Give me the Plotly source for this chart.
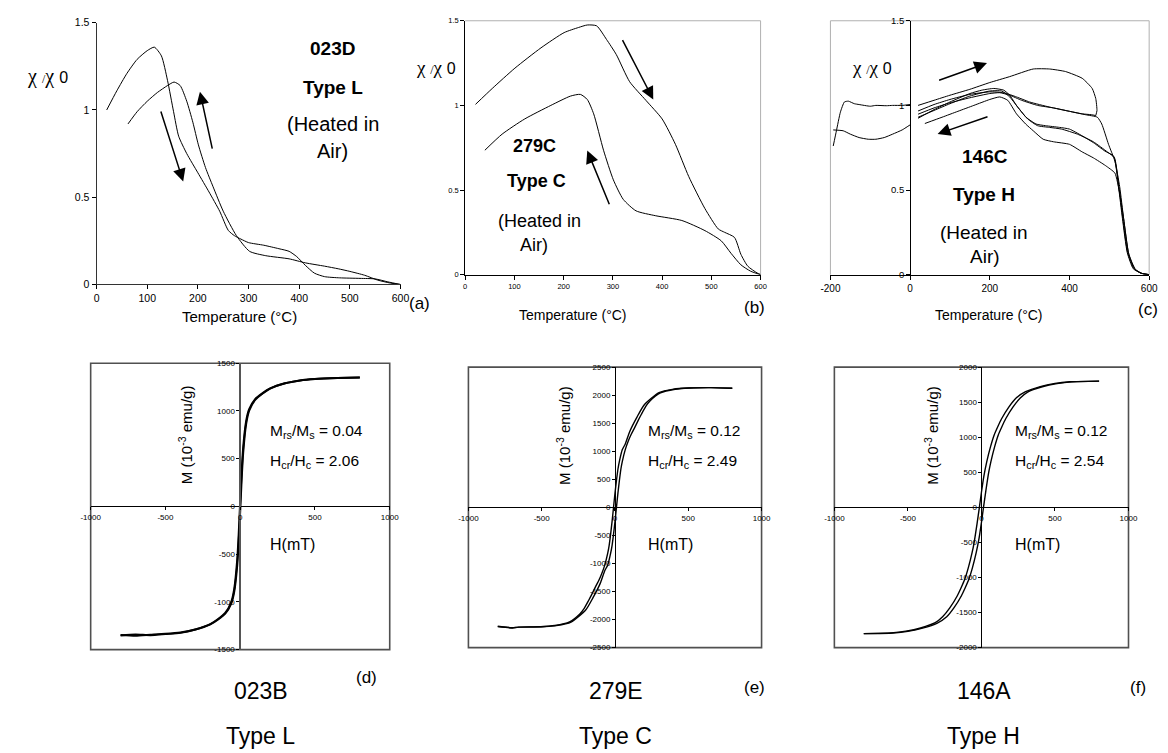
import plotly.graph_objects as go

W, H = 1168, 753

# ---------------- (a) 023D, Type L : susceptibility vs temperature ----------------
a_heat_T = [20, 40, 60, 80, 100, 114, 128, 140, 152, 162, 178, 200, 222, 243, 260, 272, 285, 300,
            330, 360, 380, 395, 412, 430, 450, 480, 520, 550, 575, 600]
a_heat_v = [1.00, 1.11, 1.21, 1.29, 1.34, 1.36, 1.31, 1.17, 0.99, 0.85, 0.75, 0.64, 0.53, 0.42, 0.31,
            0.28, 0.26, 0.24, 0.225, 0.205, 0.19, 0.16, 0.11, 0.065, 0.045, 0.038, 0.035, 0.032, 0.015, 0.0]
a_cool_T = [62, 80, 100, 120, 140, 153, 165, 178, 190, 201, 215, 230, 250, 276, 302, 334, 380, 412,
            450, 477, 500, 529, 555, 580, 600]
a_cool_v = [0.92, 0.99, 1.05, 1.10, 1.14, 1.16, 1.14, 1.05, 0.93, 0.80, 0.67, 0.56, 0.42, 0.28, 0.19,
            0.165, 0.147, 0.124, 0.105, 0.09, 0.075, 0.053, 0.025, 0.008, 0.0]

# ---------------- (b) 279C, Type C ----------------
b_heat_T = [21, 55, 101, 154, 201, 230, 248, 267, 287, 307, 334, 367, 400, 427, 454, 487, 514, 527,
            547, 560, 574, 593, 600]
b_heat_v = [1.006, 1.10, 1.22, 1.34, 1.43, 1.46, 1.475, 1.47, 1.39, 1.30, 1.14, 1.03, 0.92, 0.77,
            0.58, 0.39, 0.27, 0.25, 0.22, 0.12, 0.05, 0.01, 0.0]
b_cool_T = [40, 75, 121, 174, 214, 234, 248, 261, 281, 301, 321, 347, 387, 440, 487, 520, 540, 560,
            580, 600]
b_cool_v = [0.735, 0.83, 0.92, 1.00, 1.055, 1.065, 1.035, 0.95, 0.735, 0.56, 0.445, 0.377, 0.348,
            0.32, 0.26, 0.20, 0.126, 0.058, 0.02, 0.0]

# ---------------- (c) 146C, Type H ----------------
c_low1_T = [-193, -185, -175, -165, -155, -140, -128, -100, -86, -60, -44, -20, 0]
c_low1_v = [0.76, 0.85, 0.96, 1.02, 1.025, 1.01, 1.005, 0.995, 1.0, 0.998, 1.0, 1.0, 1.005]
c_low2_T = [-193, -168, -150, -128, -105, -86, -65, -44, -20, 0]
c_low2_v = [0.855, 0.85, 0.83, 0.81, 0.80, 0.80, 0.81, 0.83, 0.855, 0.885]
c_heat1_T = [20, 60, 100, 150, 200, 250, 309, 350, 390, 432, 457, 466, 469, 466]
c_heat1_v = [1.0, 1.03, 1.06, 1.095, 1.135, 1.17, 1.215, 1.215, 1.20, 1.16, 1.10, 1.04, 0.97, 0.94]
c_cool1_T = [466, 455, 432, 400, 350, 300, 267, 235, 200, 150, 100, 60, 20]
c_cool1_v = [0.94, 0.945, 0.95, 0.965, 0.99, 1.02, 1.05, 1.075, 1.08, 1.065, 1.035, 1.005, 0.967]
c_heat2_T = [20, 60, 100, 150, 200, 225, 250, 280, 320, 360, 400, 440, 470, 481, 498, 514, 526, 536,
             548, 563, 580, 600]
c_heat2_v = [0.948, 0.985, 1.015, 1.045, 1.07, 1.075, 1.06, 1.03, 1.0, 0.985, 0.965, 0.945, 0.93,
             0.89, 0.77, 0.67, 0.52, 0.33, 0.13, 0.035, 0.008, 0.0]
c_cool2_T = [600, 580, 560, 545, 533, 523, 511, 489, 460, 432, 400, 375, 340, 316, 291, 267, 250,
             235, 210, 180, 150, 100, 60, 20]
c_cool2_v = [0.0, 0.008, 0.035, 0.13, 0.33, 0.52, 0.70, 0.73, 0.78, 0.82, 0.86, 0.87, 0.88, 0.89,
             0.93, 1.0, 1.06, 1.09, 1.10, 1.09, 1.07, 1.02, 0.975, 0.924]
c_heat3_T = [20, 60, 100, 150, 200, 230, 250, 270, 295, 320, 350, 380, 420, 460, 495, 513, 524, 534,
             546, 562, 580, 600]
c_heat3_v = [0.93, 0.97, 1.01, 1.055, 1.085, 1.085, 1.05, 0.99, 0.92, 0.88, 0.87, 0.86, 0.83, 0.785,
             0.725, 0.69, 0.52, 0.33, 0.13, 0.035, 0.008, 0.0]
c_heat4_T = [37, 80, 120, 160, 200, 225, 245, 267, 290, 309, 334, 360, 400, 432, 460, 490, 514, 526,
             536, 549, 566, 585, 600]
c_heat4_v = [0.893, 0.93, 0.965, 1.0, 1.035, 1.05, 1.03, 0.95, 0.89, 0.85, 0.80, 0.785, 0.77, 0.725,
             0.69, 0.645, 0.60, 0.48, 0.33, 0.12, 0.03, 0.005, 0.0]

# ---------------- (d) 023B hysteresis ----------------
d_down_H = [800, 650, 500, 400, 300, 200, 150, 100, 60, 40, 20, 10, 0, -10, -20, -40, -60, -100,
            -150, -200, -300, -400, -500, -600, -700, -800]
d_down_M = [1350, 1345, 1335, 1320, 1290, 1236, 1187, 1124, 1018, 895, 620, 370, 54, -290, -560,
            -865, -1002, -1116, -1183, -1234, -1290, -1325, -1338, -1350, -1342, -1352]
d_up_H = [-800, -700, -600, -500, -400, -300, -200, -150, -100, -60, -40, -20, -10, 0, 10, 20, 40,
          60, 100, 150, 200, 300, 400, 500, 650, 800]
d_up_M = [-1348, -1355, -1345, -1335, -1320, -1290, -1236, -1187, -1124, -1018, -895, -620, -370,
          -54, 290, 560, 865, 1002, 1116, 1183, 1234, 1290, 1320, 1335, 1345, 1350]

# ---------------- (e) 279E hysteresis ----------------
e_down_H = [800, 650, 500, 400, 300, 200, 150, 100, 70, 50, 30, 20, 10, 0, -10, -20, -30, -40, -50,
            -70, -90, -110, -130, -160, -180, -210, -240, -310, -410, -510, -660, -700, -800]
e_down_M = [2125, 2135, 2128, 2108, 2045, 1830, 1610, 1350, 1130, 1030, 820, 680, 480, 255, 0, -255,
            -480, -680, -820, -1030, -1180, -1300, -1400, -1560, -1660, -1800, -1900, -2040, -2105,
            -2128, -2135, -2150, -2125]
e_up_H = [-800, -700, -650, -500, -400, -300, -200, -150, -100, -70, -50, -30, -20, -10, 0, 10, 20,
          30, 40, 50, 70, 90, 110, 130, 160, 180, 210, 240, 310, 410, 510, 660, 800]
e_up_M = [-2120, -2145, -2135, -2128, -2108, -2045, -1830, -1610, -1350, -1130, -1030, -820, -680,
          -480, -255, 0, 255, 480, 680, 820, 1030, 1180, 1300, 1400, 1560, 1660, 1800, 1900, 2040,
          2105, 2128, 2135, 2125]

# ---------------- (f) 146A hysteresis ----------------
f_down_H = [800, 600, 500, 400, 300, 236, 186, 136, 111, 86, 61, 36, 16, 0, -14, -30, -50, -64, -89,
            -114, -139, -164, -214, -264, -314, -414, -514, -614, -800]
f_down_M = [1800, 1791, 1768, 1723, 1650, 1560, 1430, 1260, 1150, 1030, 860, 650, 440, 216, 0, -235,
            -505, -650, -860, -1030, -1150, -1260, -1430, -1560, -1645, -1720, -1765, -1790, -1800]
f_up_H = [-800, -600, -500, -400, -300, -236, -186, -136, -111, -86, -61, -36, -16, 0, 14, 30, 50,
          64, 89, 114, 139, 164, 214, 264, 314, 414, 514, 614, 800]
f_up_M = [-1800, -1791, -1768, -1723, -1650, -1560, -1430, -1260, -1150, -1030, -860, -650, -440,
          -216, 0, 235, 505, 650, 860, 1030, 1150, 1260, 1430, 1560, 1645, 1720, 1765, 1790, 1800]

# tick labels
temp_ticks = [0, 100, 200, 300, 400, 500, 600]
temp_ticks_c = [-200, 0, 200, 400, 600]
chi_ticks = [0, 0.5, 1, 1.5]
chi_ticktext = ["0", "0.5", "1", "1.5"]
field_ticks = [-1000, -500, 0, 500, 1000]
mag_ticks_d = [-1500, -1000, -500, 0, 500, 1000, 1500]
mag_ticks_e = [-2500, -2000, -1500, -1000, -500, 0, 500, 1000, 1500, 2000, 2500]
mag_ticks_f = [-2000, -1500, -1000, -500, 0, 500, 1000, 1500, 2000]

SANS = "Liberation Sans, Arial, sans-serif"
SERIF = "Liberation Serif, Times New Roman, serif"


def pxx(x):
    return x / W


def pxy(y):
    return 1 - y / H


fig = go.Figure()


def add_curve(xs, ys, n, width=1.0, smoothing=0.6):
    sfx = "" if n == 1 else str(n)
    fig.add_trace(go.Scatter(
        x=xs, y=ys, xaxis="x" + sfx, yaxis="y" + sfx, mode="lines",
        line=dict(color="black", width=width, shape="spline", smoothing=smoothing),
        hoverinfo="skip", showlegend=False))


add_curve(a_heat_T, a_heat_v, 1)
add_curve(a_cool_T, a_cool_v, 1)
add_curve(b_heat_T, b_heat_v, 2)
add_curve(b_cool_T, b_cool_v, 2)
for xs, ys in [(c_low1_T, c_low1_v), (c_low2_T, c_low2_v), (c_heat1_T, c_heat1_v),
               (c_cool1_T, c_cool1_v), (c_heat2_T, c_heat2_v), (c_cool2_T, c_cool2_v),
               (c_heat3_T, c_heat3_v), (c_heat4_T, c_heat4_v)]:
    add_curve(xs, ys, 3, smoothing=0.5)
add_curve(d_down_H, d_down_M, 4, width=2.0)
add_curve(d_up_H, d_up_M, 4, width=2.0)
add_curve(e_down_H, e_down_M, 5, width=1.4)
add_curve(e_up_H, e_up_M, 5, width=1.4)
add_curve(f_down_H, f_down_M, 6, width=1.4)
add_curve(f_up_H, f_up_M, 6, width=1.4)


def axis(domain, rng, vals, text, size, **kw):
    d = dict(domain=domain, range=rng, tickvals=vals, ticktext=text, showgrid=False,
             zeroline=False, showline=True, linecolor="black", linewidth=1, ticks="outside",
             ticklen=4, tickcolor="black", tickfont=dict(family=SANS, size=size, color="black"),
             fixedrange=True)
    d.update(kw)
    return d


def labels(vals):
    return [str(v) for v in vals]


# panel boxes (pixels): left, right, top, bottom
A = (88, 397, 17, 283)
B = (462.7, 763, 15, 273)
C = (834, 1158, 15, 273)
D = (82, 386, 363, 654)
E = (466, 764, 367, 652)
F = (838, 1137, 367, 652)


def xd(b):
    return [pxx(b[0]), pxx(b[1])]


def yd(b):
    return [pxy(b[3]), pxy(b[2])]


fig.update_layout(
    width=W, height=H, margin=dict(l=0, r=0, t=0, b=0),
    paper_bgcolor="white", plot_bgcolor="white", showlegend=False,
    xaxis=axis(xd(A), [0, 600], temp_ticks, labels(temp_ticks), 10.5, anchor="y",
               linecolor="#333"),
    yaxis=axis(yd(A), [0, 1.5], chi_ticks, chi_ticktext, 10.5, anchor="x", linecolor="#333"),
    xaxis2=axis(xd(B), [0, 600], temp_ticks, labels(temp_ticks), 7.5, anchor="y2"),
    yaxis2=axis(yd(B), [0, 1.5], chi_ticks, chi_ticktext, 7.5, anchor="x2"),
    xaxis3=axis(xd(C), [-200, 600], temp_ticks_c, labels(temp_ticks_c), 10, anchor="y3"),
    yaxis3=axis(yd(C), [0, 1.5], chi_ticks, chi_ticktext, 9.5, anchor="free",
                position=pxx(915)),
    xaxis4=axis(xd(D), [-1000, 1000], field_ticks, labels(field_ticks), 8, anchor="free",
                position=pxy((D[2] + D[3]) / 2), ticklen=3),
    yaxis4=axis(yd(D), [-1500, 1500], mag_ticks_d, labels(mag_ticks_d), 8, anchor="free",
                position=pxx((D[0] + D[1]) / 2), ticklen=3, linecolor="#555", linewidth=1.5),
    xaxis5=axis(xd(E), [-1000, 1000], field_ticks, labels(field_ticks), 8, anchor="free",
                position=pxy((E[2] + E[3]) / 2), ticklen=3),
    yaxis5=axis(yd(E), [-2500, 2500], mag_ticks_e, labels(mag_ticks_e), 8, anchor="free",
                position=pxx((E[0] + E[1]) / 2), ticklen=3),
    xaxis6=axis(xd(F), [-1000, 1000], field_ticks, labels(field_ticks), 8, anchor="free",
                position=pxy((F[2] + F[3]) / 2), ticklen=3),
    yaxis6=axis(yd(F), [-2000, 2000], mag_ticks_f, labels(mag_ticks_f), 8, anchor="free",
                position=pxx((F[0] + F[1]) / 2), ticklen=3),
)

# frames
shapes = []
GRAY = "#b0b0b0"
for n in (2, 3):
    shapes.append(dict(type="line", xref=f"x{n} domain", yref=f"y{n} domain", x0=0, x1=1, y0=1,
                       y1=1, line=dict(color=GRAY, width=1), layer="below"))
    shapes.append(dict(type="line", xref=f"x{n} domain", yref=f"y{n} domain", x0=1, x1=1, y0=0,
                       y1=1, line=dict(color=GRAY, width=1), layer="below"))
shapes.append(dict(type="line", xref="x3 domain", yref="y3 domain", x0=0, x1=0, y0=0, y1=1,
                   line=dict(color=GRAY, width=1), layer="below"))
for n in (4, 5, 6):
    shapes.append(dict(type="rect", xref=f"x{n} domain", yref=f"y{n} domain", x0=0, x1=1, y0=0,
                       y1=1, line=dict(color="#505050", width=1.6), layer="below"))
fig.update_layout(shapes=shapes)

ann = []


def text(x, y, s, size, bold=False, family=SANS, **kw):
    d = dict(x=pxx(x), y=pxy(y), xref="paper", yref="paper", text=f"<b>{s}</b>" if bold else s,
             showarrow=False, font=dict(family=family, size=size, color="black"),
             xanchor="center", yanchor="middle")
    d.update(kw)
    ann.append(d)


chi = "χ <span style='font-size:12px'>/</span>χ <span style='font-family:Liberation Sans;font-size:16px'>0</span>"
text(38, 72, chi, 20, family=SERIF)
text(433, 63, chi, 19, family=SERIF)
text(876, 63, chi, 19, family=SERIF)

# (a)
text(328, 43, "023D", 19, bold=True)
text(328, 83, "Type L", 19, bold=True)
text(328, 120, "(Heated in", 20)
text(328, 147, "Air)", 20)
text(233, 316, "Temperature (°C)", 15)
text(416, 302, "(a)", 17)
# (b)
text(533, 142, "279C", 18, bold=True)
text(535, 178, "Type C", 18, bold=True)
text(538, 218, "(Heated in", 18)
text(533, 243, "Air)", 18)
text(572, 314, "Temperature (°C)", 14)
text(757, 306, "(b)", 17)
# (c)
text(991, 153, "146C", 19, bold=True)
text(990, 192, "Type H", 19, bold=True)
text(990, 230, "(Heated in", 19)
text(991, 255, "Air)", 19)
text(995, 314, "Temperature (°C)", 14)
text(1157, 308, "(c)", 17)

# (d)-(f)
ylab = "M (10<sup>-3</sup> emu/g)"
for xc, lx, r1, r2, tag, tagx, tagy, name, typ, nx in [
        (178, 262, "0.04", "2.06", "(d)", 362, 682, "023B", "Type L", 255),
        (562, 647, "0.12", "2.49", "(e)", 757, 693, "279E", "Type C", 616),
        (936, 1020, "0.12", "2.54", "(f)", 1147, 693, "146A", "Type H", 990)]:
    text(xc, 436, ylab, 15, textangle=-90)
    text(lx, 432, f"M<sub>rs</sub>/M<sub>s</sub> = {r1}", 15.5, xanchor="left")
    text(lx, 463, f"H<sub>cr</sub>/H<sub>c</sub> = {r2}", 15.5, xanchor="left")
    text(lx, 547, "H(mT)", 16, xanchor="left")
    text(tagx, tagy, tag, 17)
    text(nx, 696, name, 23)
    text(nx, 742, typ, 23)

# heating / cooling direction arrows (data coordinates of each panel)
for n, (x0, y0, x1, y1) in [(1, (126, 1.0, 171, 0.59)), (1, (229, 0.77, 204, 1.105)),
                            (2, (318, 1.395, 382, 1.035)), (2, (294, 0.407, 248, 0.733)),
                            (3, (69, 1.145, 193, 1.25)), (3, (198, 0.936, 69, 0.831))]:
    sfx = "" if n == 1 else str(n)
    ann.append(dict(x=x1, y=y1, ax=x0, ay=y0, xref="x" + sfx, yref="y" + sfx,
                    axref="x" + sfx, ayref="y" + sfx, showarrow=True, arrowhead=2,
                    arrowsize=1.7, arrowwidth=1.5, arrowcolor="black", text=""))

fig.update_layout(annotations=ann)
fig.write_html("out.html")
